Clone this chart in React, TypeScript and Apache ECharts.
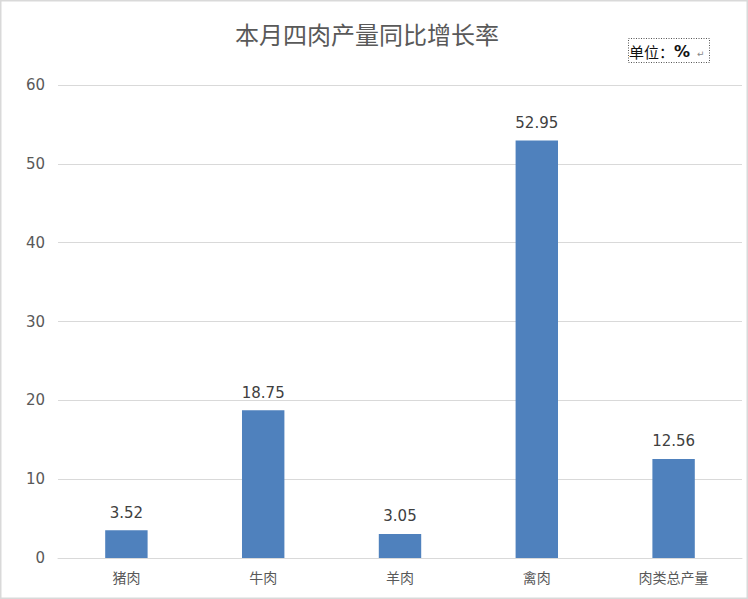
import React, { useEffect, useRef } from "react";
import * as echarts from "echarts";

const categories = ["猪肉", "牛肉", "羊肉", "禽肉", "肉类总产量"];
const values = [3.52, 18.75, 3.05, 52.95, 12.56];
const titleText = "本月四肉产量同比增长率";
const unitPrefix = "单位：";
const unitSymbol = "%";

export default function App() {
  const ref = useRef<HTMLDivElement>(null);
  useEffect(() => {
    if (!ref.current) return;
    const chart = echarts.init(ref.current, null, { renderer: "svg" });
    chart.setOption({
      animation: false,
      backgroundColor: "#ffffff",
      title: {
        text: titleText,
        left: 362,
        textAlign: "center",
        top: 16,
        textStyle: {
          fontFamily: "Noto Sans CJK SC",
          fontSize: 24,
          fontWeight: "normal",
          color: "#595959",
        },
      },
      grid: { left: 58, right: 6, top: 85, bottom: 41, containLabel: false },
      xAxis: {
        type: "category",
        data: categories,
        axisLine: { lineStyle: { color: "#d9d9d9", width: 1 } },
        axisTick: { show: false },
        axisLabel: {
          margin: 12,
          fontSize: 14,
          color: "#595959",
          fontFamily: "Noto Sans CJK SC",
        },
      },
      yAxis: {
        type: "value",
        min: 0,
        max: 60,
        interval: 10,
        axisLine: { show: false },
        axisTick: { show: false },
        splitLine: { lineStyle: { color: "#d9d9d9", width: 1 } },
        axisLabel: {
          margin: 13,
          fontSize: 15,
          color: "#595959",
          fontFamily: "DejaVu Sans",
        },
      },
      series: [
        {
          type: "bar",
          data: values,
          barWidth: "31%",
          itemStyle: { color: "#4F81BD" },
          label: {
            show: true,
            position: "top",
            distance: 10,
            fontSize: 15,
            color: "#404040",
            fontFamily: "DejaVu Sans",
          },
        },
      ],
      graphic: [
        {
          type: "rect",
          shape: { x: 0.75, y: 0.75, width: 746.5, height: 597.5 },
          style: { fill: "none", stroke: "#d9d9d9", lineWidth: 1.5 },
          silent: true,
        },
        {
          type: "rect",
          shape: { x: 628.5, y: 38.5, width: 81, height: 24 },
          style: { fill: "none", stroke: "#555555", lineWidth: 1, lineDash: [1, 1.5] },
        },
        {
          type: "text",
          x: 629,
          y: 51,
          style: {
            text: "{a|" + unitPrefix + "}{b|" + unitSymbol + "}",
            verticalAlign: "middle",
            rich: {
              a: { fontSize: 15, fontFamily: "Noto Sans CJK SC", fill: "#111111", color: "#111111" },
              b: { fontSize: 16, fontWeight: "bold", fontFamily: "DejaVu Sans", fill: "#111111", color: "#111111" },
            },
          },
        },
        {
          type: "text",
          x: 697,
          y: 54,
          style: {
            text: "↵",
            fontSize: 9,
            fontFamily: "DejaVu Sans",
            fill: "#888888",
            verticalAlign: "middle",
          },
        },
      ],
    });
    return () => chart.dispose();
  }, []);
  return (
    <div
      ref={ref}
      style={{ position: "absolute", left: 0, top: 0, width: 748, height: 599 }}
    />
  );
}
